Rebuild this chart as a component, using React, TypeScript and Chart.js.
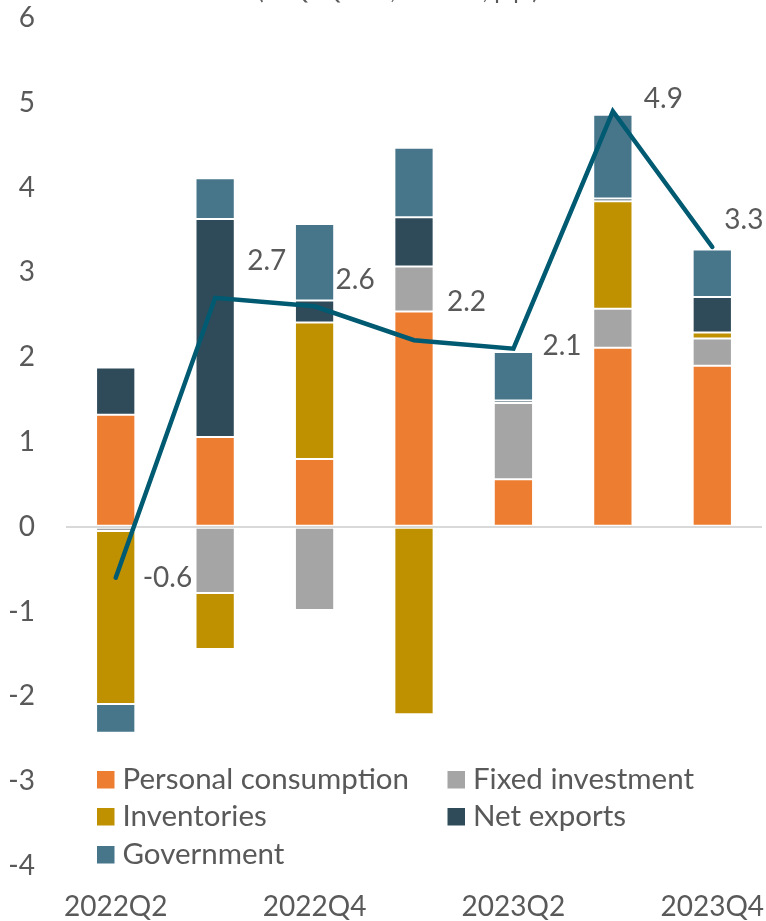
import React, { useEffect, useRef } from 'react';
import { Chart, registerables } from 'chart.js';

Chart.register(...registerables);

const categories = ['2022Q2', '2022Q3', '2022Q4', '2023Q1', '2023Q2', '2023Q3', '2023Q4'];
const shownTicks = ['2022Q2', '2022Q4', '2023Q2', '2023Q4'];
const personalConsumption = [1.32, 1.06, 0.8, 2.54, 0.56, 2.11, 1.9];
const fixedInvestment = [-0.05, -0.78, -0.98, 0.53, 0.9, 0.46, 0.32];
const inventories = [-2.04, -0.66, 1.61, -2.21, 0, 1.27, 0.07];
const netExports = [0.56, 2.57, 0.26, 0.58, 0.03, 0.03, 0.42];
const government = [-0.34, 0.48, 0.9, 0.82, 0.57, 0.99, 0.56];
const gdpGrowth = [-0.6, 2.7, 2.6, 2.2, 2.1, 4.9, 3.3];
const gdpLabels = ['-0.6', '2.7', '2.6', '2.2', '2.1', '4.9', '3.3'];
const yMin = -4;
const yMax = 6;
const titleText = '(% QoQ saar; contrib., p.p.)';

const seriesNames = ['Personal consumption', 'Fixed investment', 'Inventories', 'Net exports', 'Government'];
const seriesColors = ['#ED7D31', '#A5A5A5', '#BF9000', '#2F4B5A', '#47768B'];
const lineColor = '#005A71';
const textColor = '#595959';
const FONT = 'Lato';

// label placement relative to each line point (style only)
const labelDX = [27, 32, 21, 33, 29, 31, 12];
const labelDY = [0, -37, -26, -38, -3, -12, -27];

const overlayPlugin = {
  id: 'overlay',
  afterDraw(chart: any) {
    const ctx = chart.ctx;
    ctx.save();
    // title (mostly clipped above the canvas)
    ctx.fillStyle = textColor;
    ctx.font = `24px ${FONT}`;
    ctx.textAlign = 'center';
    ctx.textBaseline = 'alphabetic';
    ctx.fillText(titleText, 398, -1);

    // data labels for the line
    const meta = chart.getDatasetMeta(0);
    ctx.font = `28px ${FONT}`;
    ctx.textAlign = 'left';
    ctx.textBaseline = 'middle';
    meta.data.forEach((pt: any, i: number) => {
      ctx.fillText(gdpLabels[i], pt.x + labelDX[i], pt.y + labelDY[i]);
    });

    // legend
    const colX = [97, 447.5];
    const rowY = [771, 808, 846];
    ctx.font = `29.5px ${FONT}`;
    ctx.textBaseline = 'alphabetic';
    seriesNames.forEach((name, i) => {
      const x = colX[i % 2];
      const y = rowY[Math.floor(i / 2)];
      ctx.fillStyle = seriesColors[i];
      ctx.fillRect(x, y, 17.5, 17.5);
      ctx.fillStyle = textColor;
      ctx.fillText(name, x + 25.5, y + 17.5);
    });
    ctx.restore();
  },
};

export default function App() {
  const ref = useRef<HTMLCanvasElement | null>(null);

  useEffect(() => {
    if (!ref.current) return;
    const barSets = [personalConsumption, fixedInvestment, inventories, netExports, government].map((d, i) => ({
      type: 'bar' as const,
      label: seriesNames[i],
      data: d,
      backgroundColor: seriesColors[i],
      borderColor: 'rgba(255,255,255,0.5)',
      borderWidth: 1,
      borderSkipped: false,
      barPercentage: 0.395,
      categoryPercentage: 1,
      stack: 'bars',
      order: 1,
    }));
    const chart = new Chart(ref.current, {
      type: 'bar',
      data: {
        labels: categories,
        datasets: [
          {
            type: 'line' as const,
            label: 'GDP',
            data: gdpGrowth,
            borderColor: lineColor,
            borderWidth: 4.5,
            pointRadius: 0,
            tension: 0,
            borderCapStyle: 'round',
            borderJoinStyle: 'miter',
            stack: 'line',
            order: 0,
          } as any,
          ...barSets,
        ],
      },
      options: {
        responsive: false,
        animation: false,
        devicePixelRatio: 1,
        layout: { padding: { top: 18, right: 4, left: 0, bottom: 0 } },
        plugins: {
          legend: { display: false },
          tooltip: { enabled: false },
          title: { display: false },
        },
        scales: {
          x: {
            stacked: true,
            offset: true,
            grid: { display: false, drawTicks: false },
            border: { display: false },
            ticks: {
              autoSkip: false,
              maxRotation: 0,
              padding: 24,
              color: textColor,
              font: { family: FONT, size: 28 },
              callback: (_v: any, i: number) => (shownTicks.includes(categories[i]) ? categories[i] : ''),
            },
            afterFit: (s: any) => {
              s.height = 55;
              s.paddingLeft = 0;
              s.paddingRight = 0;
            },
          },
          y: {
            stacked: true,
            min: yMin,
            max: yMax,
            grid: {
              drawTicks: false,
              color: (c: any) => (c.tick && c.tick.value === 0 ? '#D9D9D9' : 'rgba(0,0,0,0)'),
              lineWidth: 2,
            },
            border: { display: false },
            ticks: {
              stepSize: 1,
              padding: 31,
              color: textColor,
              font: { family: FONT, size: 28 },
            },
            afterFit: (s: any) => {
              s.width = 66;
              s.paddingTop = 0;
              s.paddingBottom = 0;
            },
          },
        },
      },
      plugins: [overlayPlugin],
    });
    return () => chart.destroy();
  }, []);

  return (
    <div style={{ position: 'absolute', left: 0, top: 0, width: 766, height: 921, background: '#fff' }}>
      <canvas ref={ref} width={766} height={921} style={{ display: 'block' }} />
    </div>
  );
}
